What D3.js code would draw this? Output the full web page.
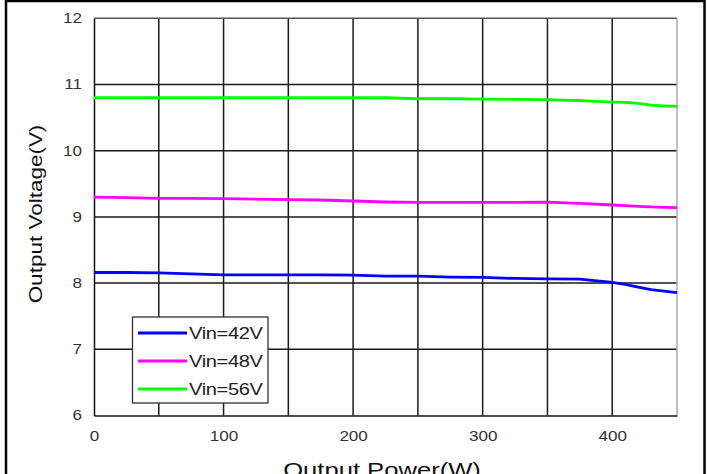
<!DOCTYPE html>
<html>
<head>
<meta charset="utf-8">
<script src="https://cdn.jsdelivr.net/npm/d3@7"></script>
<style>
  html, body { margin: 0; padding: 0; background: #fff; overflow: hidden; }
  svg { display: block; }
  text { font-family: Arial, "Liberation Sans", sans-serif; }
</style>
</head>
<body>
<svg id="chart" width="708" height="474"></svg>
<script>
// Output power (W) sample points
const power = [0, 25, 50, 75, 100, 125, 150, 175, 200, 225, 250, 275, 300, 325, 350, 375, 400, 410, 420, 430, 440, 450];
// Output voltage (V) for each input voltage
const vin42 = [8.16, 8.16, 8.155, 8.14, 8.125, 8.125, 8.125, 8.125, 8.12, 8.105, 8.105, 8.09, 8.085, 8.07, 8.065, 8.06, 8.01, 7.98, 7.94, 7.90, 7.88, 7.855];
const vin48 = [9.30, 9.29, 9.28, 9.28, 9.275, 9.27, 9.26, 9.255, 9.24, 9.225, 9.22, 9.22, 9.22, 9.22, 9.222, 9.205, 9.18, 9.17, 9.16, 9.15, 9.145, 9.14];
const vin56 = [10.80, 10.80, 10.80, 10.80, 10.80, 10.80, 10.80, 10.80, 10.80, 10.80, 10.785, 10.785, 10.78, 10.775, 10.77, 10.755, 10.735, 10.73, 10.715, 10.69, 10.675, 10.67];
const seriesNames = ["Vin=42V", "Vin=48V", "Vin=56V"];
const seriesColors = ["#0000ff", "#ff00ff", "#00ff00"];
const xTickLabels = [0, 100, 200, 300, 400];
const xGridValues = [50, 100, 150, 200, 250, 300, 350, 400];
const yTickLabels = [6, 7, 8, 9, 10, 11, 12];

// wide lettering: every label is stretched horizontally
const stretch = 1.22;

const svg = d3.select("#chart");

// outer frame
svg.append("rect").attr("x", 6).attr("y", 1).attr("width", 698.5).attr("height", 480)
  .attr("fill", "none").attr("stroke", "#000").attr("stroke-width", 2.5);

const x = d3.scaleLinear().domain([0, 450]).range([94, 677]);
const y = d3.scaleLinear().domain([6, 12]).range([415.5, 18.3]);

// plot background
svg.append("rect").attr("x", x(0)).attr("y", y(12)).attr("width", x(450) - x(0)).attr("height", y(6) - y(12))
  .attr("fill", "#fefefe");

// grid lines
const grid = svg.append("g").attr("stroke", "#1a1a1a").attr("stroke-width", 1.5);
grid.selectAll("line.v").data(xGridValues).join("line")
  .attr("x1", d => x(d)).attr("x2", d => x(d)).attr("y1", y(12)).attr("y2", y(6));
grid.selectAll("line.h").data(yTickLabels.filter(v => v > 6 && v < 12)).join("line")
  .attr("x1", x(0)).attr("x2", x(450)).attr("y1", d => y(d)).attr("y2", d => y(d));

// plot frame: top and right in grey
svg.append("line").attr("x1", x(0)).attr("x2", x(450)).attr("y1", y(12)).attr("y2", y(12))
  .attr("stroke", "#555").attr("stroke-width", 1.5);
svg.append("line").attr("x1", x(450)).attr("x2", x(450)).attr("y1", y(12)).attr("y2", y(6))
  .attr("stroke", "#aaa").attr("stroke-width", 1.5);

// axes
const xAxis = d3.axisBottom(x).tickValues(xTickLabels).tickSize(0).tickPadding(16).tickFormat(d3.format("d"));
const gx = svg.append("g").attr("transform", `translate(0,${y(6)})`).call(xAxis);
gx.select(".domain").attr("stroke", "#111").attr("stroke-width", 1.5);
gx.selectAll("text").attr("font-size", 14).attr("fill", "#333")
  .style("font-family", "Arial, 'Liberation Sans', sans-serif")
  .attr("transform", `scale(${stretch},1)`);

const yAxis = d3.axisLeft(y).tickValues(yTickLabels).tickSize(0).tickPadding(12).tickFormat(d3.format("d"));
const gy = svg.append("g").attr("transform", `translate(${x(0)},0)`).call(yAxis);
gy.select(".domain").attr("stroke", "#111").attr("stroke-width", 1.5);
gy.selectAll("text").attr("font-size", 14).attr("fill", "#333")
  .style("font-family", "Arial, 'Liberation Sans', sans-serif")
  .attr("x", -12 / stretch)
  .attr("transform", `scale(${stretch},1)`);

// series lines
const allSeries = [vin42, vin48, vin56];
const line = d3.line().x((d, i) => x(power[i])).y(d => y(d));
allSeries.forEach((vals, k) => {
  svg.append("path").datum(vals)
    .attr("fill", "none").attr("stroke", seriesColors[k]).attr("stroke-width", 2.8)
    .attr("d", line);
});

// legend
const lg = svg.append("g");
lg.append("rect").attr("x", 132.5).attr("y", 317).attr("width", 135.5).attr("height", 86)
  .attr("fill", "#fff").attr("stroke", "#333").attr("stroke-width", 1.3);
seriesNames.forEach((name, k) => {
  const ly = 333 + k * 28;
  lg.append("line").attr("x1", 138).attr("x2", 187).attr("y1", ly).attr("y2", ly)
    .attr("stroke", seriesColors[k]).attr("stroke-width", 2.8);
  lg.append("text").attr("transform", `translate(189,${ly + 6}) scale(1.18,1)`)
    .attr("font-size", 17).attr("fill", "#222").attr("letter-spacing", -0.3).text(name);
});

// axis titles
svg.append("text").attr("transform", `translate(42,214) rotate(-90) scale(1.25,1)`)
  .attr("text-anchor", "middle").attr("font-size", 18).attr("fill", "#111").text("Output Voltage(V)");
svg.append("text").attr("transform", `translate(382,477) scale(1.28,1)`)
  .attr("text-anchor", "middle").attr("font-size", 20).attr("fill", "#111").text("Output Power(W)");
</script>
</body>
</html>
